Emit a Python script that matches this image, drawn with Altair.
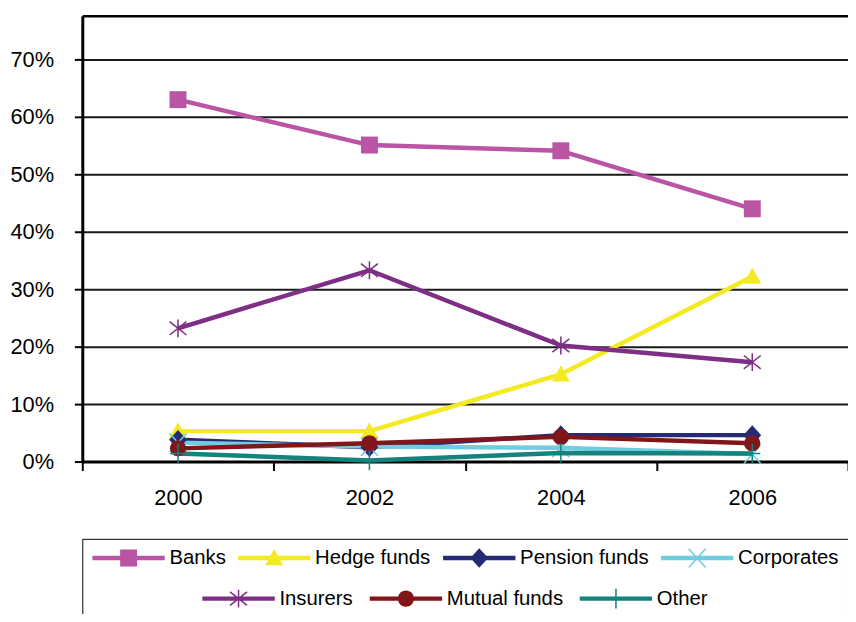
import math
import altair as alt
import pandas as pd

# ---------------- data ----------------
years = ["2000", "2002", "2004", "2006"]
series = ["Banks", "Hedge funds", "Pension funds", "Corporates",
          "Insurers", "Mutual funds", "Other"]
banks = [0.630, 0.551, 0.541, 0.440]
hedge_funds = [0.053, 0.053, 0.152, 0.322]
pension_funds = [0.038, 0.025, 0.046, 0.046]
corporates = [0.033, 0.026, 0.024, 0.013]
insurers = [0.232, 0.333, 0.202, 0.173]
mutual_funds = [0.023, 0.032, 0.043, 0.032]
other = [0.014, 0.002, 0.015, 0.014]
y_ticks = [0.0, 0.1, 0.2, 0.3, 0.4, 0.5, 0.6, 0.7]

values = [banks, hedge_funds, pension_funds, corporates, insurers, mutual_funds, other]
rows = []
for s, vals in zip(series, values):
    for yr, v in zip(years, vals):
        rows.append({"series": s, "year": yr, "value": v})
df = pd.DataFrame(rows)

# ---------------- styles ----------------
colors = {
    "Banks": "#B955A4",
    "Hedge funds": "#F3EA22",
    "Pension funds": "#262A75",
    "Corporates": "#6FCDDF",
    "Insurers": "#7E2E84",
    "Mutual funds": "#81151A",
    "Other": "#14827D",
}

H = 0.085  # half thickness of thin glyph strokes (units)


def bar(x1, y1, x2, y2, h=H):
    dx, dy = x2 - x1, y2 - y1
    L = math.hypot(dx, dy)
    nx, ny = -dy / L * h, dx / L * h
    pts = [(x1 + nx, y1 + ny), (x2 + nx, y2 + ny), (x2 - nx, y2 - ny), (x1 - nx, y1 - ny)]
    area = sum(pts[i][0] * pts[(i + 1) % 4][1] - pts[(i + 1) % 4][0] * pts[i][1] for i in range(4))
    if area < 0:
        pts = pts[::-1]
    return "M" + "L".join(f"{x:.3f},{y:.3f}" for x, y in pts) + "Z"


markers = {
    "Banks": "M-0.95,-0.95H0.95V0.95H-0.95Z",
    "Hedge funds": "M0,-1L1,0.8H-1Z",
    "Pension funds": "M0,-1.1L1,0L0,1.1L-1,0Z",
    "Corporates": bar(-0.95, -1.05, 0.95, 1.05) + bar(0.95, -1.05, -0.95, 1.05),
    "Insurers": bar(-0.95, -0.75, 0.95, 0.75) + bar(0.95, -0.75, -0.95, 0.75) + bar(0, -1.0, 0, 1.0),
    "Mutual funds": "M0.9,0A0.9,0.9 0 1,1 -0.9,0A0.9,0.9 0 1,1 0.9,0Z",
    "Other": bar(0, -1.1, 0, 1.1) + bar(-0.9, 0, 0.9, 0),
}
LEG_LINE = "M-4.06,-0.25H4.06V0.25H-4.06Z"
leg_shapes = {k: LEG_LINE + v for k, v in markers.items()}

FONT = "Liberation Sans, Arial, sans-serif"
FS = 22
LFS = 20.5

x_scale = alt.Scale(type="band", domain=years, paddingInner=0, paddingOuter=0)
y_scale = alt.Scale(domain=[0, 0.776], nice=False, zero=True)

y_axis = alt.Axis(values=y_ticks, format=".0%", title=None, grid=True,
                  gridColor="#1a1a1a", gridWidth=2, domainColor="black", domainWidth=3,
                  tickColor="black", tickWidth=2, tickSize=8, labelPadding=21,
                  labelFont=FONT, labelFontSize=FS, labelColor="black")
x_axis_bottom = alt.Axis(title=None, tickBand="extent", labelAngle=0, grid=False,
                         domainColor="black", domainWidth=3, tickColor="black", tickWidth=2,
                         tickSize=9, labelPadding=17, labelFont=FONT, labelFontSize=FS,
                         labelColor="black", orient="bottom")
x_axis_top = alt.Axis(title=None, orient="top", labels=False, ticks=False, grid=False,
                      domainColor="black", domainWidth=2.5)


def legend(lx, ly, boxed):
    kw = dict(orient="none", legendX=lx, legendY=ly, direction="horizontal",
              labelFont=FONT, labelFontSize=LFS, labelColor="black", labelLimit=400,
              symbolSize=324, symbolStrokeWidth=0, symbolOpacity=1,
              symbolOffset=27.5, labelOffset=31)
    if boxed:
        kw.update(title=" ", titleOrient="bottom", titleFontSize=30, titlePadding=30,
                  strokeColor="black", padding=9, columnPadding=11)
    else:
        kw.update(title=None, padding=0, columnPadding=15)
    return alt.Legend(**kw)


def group_layers(group_series, leg, top_axis, first):
    d = df[df["series"].isin(group_series)]
    base = alt.Chart(d)
    crange = [colors[s] for s in group_series]
    y = alt.Y("value:Q", scale=y_scale, axis=y_axis)
    line = base.mark_line(strokeWidth=4.5, strokeJoin="round").encode(
        x=alt.X("year:N", scale=x_scale, axis=x_axis_bottom if first else None),
        y=y,
        color=alt.Color("series:N", scale=alt.Scale(domain=group_series, range=crange), legend=None),
    )
    pts = base.mark_point(filled=True, size=324, opacity=1, strokeWidth=0).encode(
        x=alt.X("year:N", scale=x_scale, axis=None),
        y=y,
        color=alt.Color("series:N", scale=alt.Scale(domain=group_series, range=crange), legend=None),
        shape=alt.Shape("series:N", scale=alt.Scale(domain=group_series,
                                                    range=[markers[s] for s in group_series]),
                        legend=None),
    )
    legl = base.mark_point(filled=True, size=324, opacity=0).encode(
        x=alt.X("year:N", scale=x_scale, axis=x_axis_top if top_axis else None),
        y=y,
        color=alt.Color("series:N", scale=alt.Scale(domain=group_series, range=crange), legend=leg),
        shape=alt.Shape("series:N", scale=alt.Scale(domain=group_series,
                                                    range=[leg_shapes[s] for s in group_series]),
                        legend=leg),
    )
    return [line, pts, legl]


grpA = series[:4]
grpB = series[4:]
layers = (group_layers(grpA, legend(0, 528, True), False, True)
          + group_layers(grpB, legend(120, 578, False), True, False))

chart = alt.layer(*layers).resolve_scale(
    color="independent", shape="independent"
).resolve_axis(x="independent").properties(
    width=773, height=450,
    autosize=alt.AutoSizeParams(type="none"),
    padding={"left": 75, "top": 5, "right": 0, "bottom": 151},
    background="white",
).configure_view(stroke=None)

chart.save("out.html", embed_options={"renderer": "svg", "actions": False})
